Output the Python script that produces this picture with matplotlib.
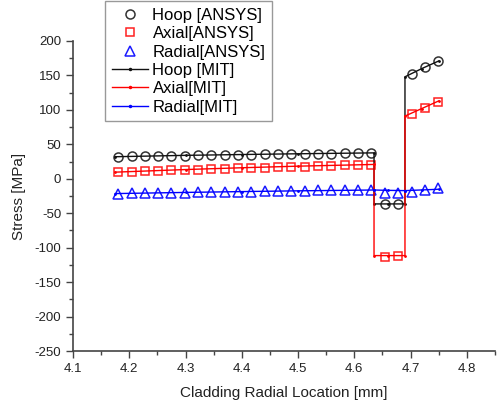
import matplotlib

matplotlib.use("Agg")
import matplotlib.pyplot as plt
from matplotlib.ticker import MultipleLocator

plt.rcParams['font.family'] = ['Liberation Sans', 'DejaVu Sans']
plt.rcParams['axes.unicode_minus'] = False

# ANSYS nodal results along the cladding radius
x_ansys = [4.180, 4.204, 4.228, 4.251, 4.275, 4.299, 4.322, 4.346, 4.370, 4.393,
           4.417, 4.441, 4.465, 4.488, 4.512, 4.536, 4.559, 4.583, 4.607, 4.630,
           4.654, 4.678, 4.702, 4.725, 4.749]
hoop_ansys = [32.2, 32.5, 32.8, 33.1, 33.4, 33.7, 34.0, 34.3, 34.6, 34.8,
              35.1, 35.3, 35.6, 35.8, 36.1, 36.3, 36.6, 36.8, 37.1, 37.3,
              -37.0, -37.0, 152.0, 162.0, 171.0]
axial_ansys = [9.8, 10.4, 11.0, 11.6, 12.2, 12.8, 13.4, 14.0, 14.6, 15.1,
               15.7, 16.2, 16.8, 17.3, 17.8, 18.3, 18.8, 19.3, 19.8, 20.3,
               -113.5, -112.0, 94.0, 103.0, 112.0]
radial_ansys = [-21.5, -21.2, -20.9, -20.6, -20.3, -20.0, -19.7, -19.4, -19.1, -18.8,
                -18.5, -18.2, -17.9, -17.6, -17.3, -17.0, -16.7, -16.4, -16.1, -15.8,
                -20.7, -20.7, -19.0, -17.0, -14.0]

# MIT code results (interfaces repeated to show the stress jumps)
x_mit = [4.175, 4.300, 4.400, 4.500, 4.635, 4.635, 4.660, 4.690, 4.690, 4.720, 4.750]
hoop_mit = [32.0, 34.0, 35.2, 36.3, 37.6, -36.5, -36.5, -36.5, 148.0, 160.0, 171.0]
axial_mit = [9.6, 13.4, 16.0, 18.3, 20.8, -111.5, -111.5, -111.5, 91.0, 102.0, 113.0]
radial_mit = [-21.5, -19.8, -18.6, -17.5, -16.3, -16.3, -16.8, -17.2, -17.2, -16.2, -15.2]

fig = plt.figure(figsize=(5.0, 4.05), dpi=100)
ax = fig.add_axes([0.146, 0.1333, 0.844, 0.7655])

mk = dict(linestyle='none', markerfacecolor='none', markeredgewidth=1.1)
ax.plot(x_ansys, hoop_ansys, 'o', color='#333333', markersize=6.5, label='Hoop [ANSYS]', **mk)
ax.plot(x_ansys, axial_ansys, 's', color='#ff2020', markersize=5.5, label='Axial[ANSYS]', **mk)
ax.plot(x_ansys, radial_ansys, '^', color='#1a1aff', markersize=7, label='Radial[ANSYS]', **mk)

ln = dict(linewidth=1.0, marker='.', markersize=2)
ax.plot(x_mit, hoop_mit, color='#111111', label='Hoop [MIT]', **ln)
ax.plot(x_mit, axial_mit, color='#ff0000', label='Axial[MIT]', **ln)
ax.plot(x_mit, radial_mit, color='#0000ff', label='Radial[MIT]', **ln)

ax.set_xlim(4.1, 4.85)
ax.set_ylim(-250, 200)
ax.xaxis.set_minor_locator(MultipleLocator(0.05))
ax.yaxis.set_major_locator(MultipleLocator(50))
ax.yaxis.set_minor_locator(MultipleLocator(25))
ax.set_xticks([4.1, 4.2, 4.3, 4.4, 4.5, 4.6, 4.7, 4.8])
ax.set_xticklabels(['4.1', '4.2', '4.3', '4.4', '4.5', '4.6', '4.7', '4.8'])

for side in ('top', 'right'):
    ax.spines[side].set_visible(False)
for side in ('left', 'bottom'):
    ax.spines[side].set_color('#444444')
    ax.spines[side].set_linewidth(1.2)
ax.tick_params(which='both', direction='out', color='#444444', labelcolor='#222222',
               labelsize=9.5, width=1.0)
ax.tick_params(which='major', length=5)
ax.tick_params(which='minor', length=3)

ax.set_xlabel('Cladding Radial Location [mm]', fontsize=11, color='#222222', labelpad=8)
ax.set_ylabel('Stress [MPa]', fontsize=11, color='#222222', labelpad=6)

leg = fig.legend(loc='upper left', bbox_to_anchor=(0.21, 0.997), fontsize=12,
                 frameon=True, fancybox=False, edgecolor='#999999', framealpha=1,
                 handlelength=2.2, handletextpad=0.25, labelspacing=0.2,
                 borderpad=0.4, borderaxespad=0)
for h in leg.legend_handles[3:]:
    h.set_markersize(3)

fig.savefig('out.png', dpi=100)
